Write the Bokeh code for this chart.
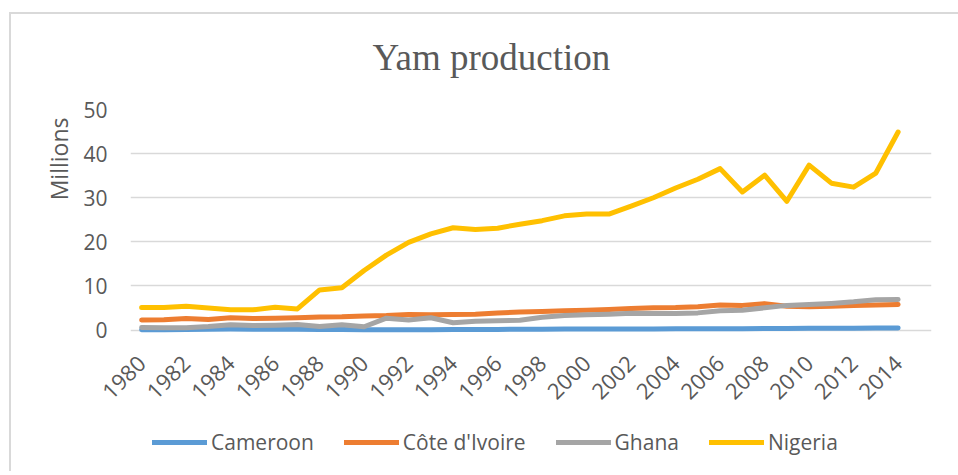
import math
from bokeh.plotting import figure
from bokeh.layouts import column
from bokeh.models import Range1d, FixedTicker, Title
from bokeh.embed import file_html
from bokeh.resources import INLINE

years = list(range(1980, 2015))
cameroon = [0.08, 0.1, 0.12, 0.2, 0.25, 0.2, 0.18, 0.2, 0.15, 0.12, 0.1,
            0.1, 0.1, 0.1, 0.12, 0.15, 0.15, 0.18, 0.2, 0.22, 0.22, 0.22,
            0.24, 0.26, 0.28, 0.3, 0.32, 0.33, 0.35, 0.38, 0.4, 0.42, 0.44,
            0.47, 0.5]
cote = [2.3, 2.35, 2.6, 2.4, 2.8, 2.6, 2.7, 2.8, 2.95, 3.0, 3.2, 3.3, 3.55,
        3.5, 3.55, 3.6, 3.85, 4.1, 4.2, 4.4, 4.5, 4.65, 4.9, 5.05, 5.1, 5.3,
        5.7, 5.6, 6.0, 5.4, 5.3, 5.4, 5.55, 5.7, 5.8]
ghana = [0.6, 0.55, 0.55, 0.8, 1.2, 1.05, 1.1, 1.25, 0.8, 1.2, 0.75, 2.7,
         2.3, 2.8, 1.65, 2.0, 2.1, 2.25, 2.9, 3.3, 3.45, 3.6, 3.8, 3.75,
         3.75, 3.9, 4.4, 4.5, 5.05, 5.6, 5.8, 6.05, 6.4, 6.9, 6.95]
nigeria = [5.1, 5.1, 5.4, 5.0, 4.6, 4.6, 5.2, 4.8, 9.1, 9.6, 13.5, 17.0,
           19.9, 21.8, 23.2, 22.8, 23.1, 24.0, 24.8, 25.9, 26.3, 26.3, 28.1,
           30.0, 32.2, 34.2, 36.6, 31.3, 35.1, 29.2, 37.4, 33.3, 32.4, 35.6,
           44.9]
series_names = ["Cameroon", "Côte d'Ivoire", "Ghana", "Nigeria"]
series_values = [cameroon, cote, ghana, nigeria]
series_colors = ["#5B9BD5", "#ED7D31", "#A5A5A5", "#FFC000"]
x_tick_years = list(range(1980, 2015, 2))
y_ticks = [0, 10, 20, 30, 40, 50]

TXT = "#595959"
FONT = "Open Sans"
LW = 5

# ---------------- main chart ----------------
p = figure(width=958, height=413, output_backend="svg", toolbar_location=None,
           title=None,
           x_range=Range1d(1979.5, 2015.5), y_range=Range1d(-1, 50),
           min_border_left=130, min_border_right=27, min_border_top=109,
           min_border_bottom=79, outline_line_color=None,
           border_fill_color=None)

for name, vals, col in zip(series_names, series_values, series_colors):
    p.line(years, vals, line_color=col, line_width=LW, line_cap="round",
           line_join="round")

p.xgrid.grid_line_color = None
p.ygrid.grid_line_color = "#d9d9d9"
p.ygrid.grid_line_width = 1.5
p.yaxis.ticker = FixedTicker(ticks=y_ticks)
p.xaxis.ticker = FixedTicker(ticks=x_tick_years)

for ax in (p.xaxis[0], p.yaxis[0]):
    ax.axis_line_color = None
    ax.major_tick_line_color = None
    ax.minor_tick_line_color = None
    ax.major_tick_out = 0
    ax.major_tick_in = 0
    ax.minor_tick_out = 0
    ax.minor_tick_in = 0
    ax.major_label_text_color = TXT
    ax.major_label_text_font = FONT
    ax.major_label_text_font_size = "21px"

p.xaxis.major_label_text_font_size = "22px"
p.yaxis.major_label_standoff = 23
p.xaxis.major_label_orientation = math.pi / 4
p.xaxis.major_label_standoff = 25

# spacer between chart title and plot frame, then the chart title
p.add_layout(Title(text=" ", text_font_size="20px", standoff=8,
                   text_color="#ffffff"), "above")
p.add_layout(Title(text="Yam production", align="left", offset=242,
                   standoff=0, text_font="Liberation Serif",
                   text_font_size="37px", text_font_style="normal",
                   text_color=TXT), "above")
# value-unit label at the top of the vertical axis
p.add_layout(Title(text="Millions", align="right", offset=8, standoff=11,
                   text_font=FONT, text_font_size="23px",
                   text_font_style="normal", text_color=TXT), "left")

# ---------------- legend strip ----------------
# The same series are drawn here far outside the visible range, so only the
# legend keys (with their line styles) show.
leg = figure(width=958, height=58, output_backend="svg", toolbar_location=None,
             title=None, x_range=Range1d(0, 1), y_range=Range1d(0, 1),
             x_axis_type=None, y_axis_type=None,
             min_border_left=0, min_border_right=0, min_border_top=0,
             min_border_bottom=0, outline_line_color=None,
             border_fill_color=None, background_fill_color=None)
leg.xgrid.visible = False
leg.ygrid.visible = False
for name, vals, col in zip(series_names, series_values, series_colors):
    leg.line(years, vals, line_color=col, line_width=LW, line_cap="round",
             legend_label=name)

lg = leg.legend[0]
lg.orientation = "horizontal"
lg.location = "left"
lg.padding = 0
lg.margin = 22
lg.spacing = 30
lg.glyph_width = 55
lg.glyph_height = 24
lg.label_height = 24
lg.label_standoff = 4
lg.label_text_font = FONT
lg.label_text_font_size = "21px"
lg.label_text_color = TXT
lg.border_line_color = None
lg.background_fill_alpha = 0

layout = column(p, leg, spacing=0,
                styles={"box-shadow": "inset 9px 0 0 #ffffff, inset 0 12px 0 #ffffff, "
                                      "inset 11px 0 0 #d9d9d9, inset 0 14px 0 #d9d9d9"})

open("out.html", "w").write(file_html(layout, INLINE))
